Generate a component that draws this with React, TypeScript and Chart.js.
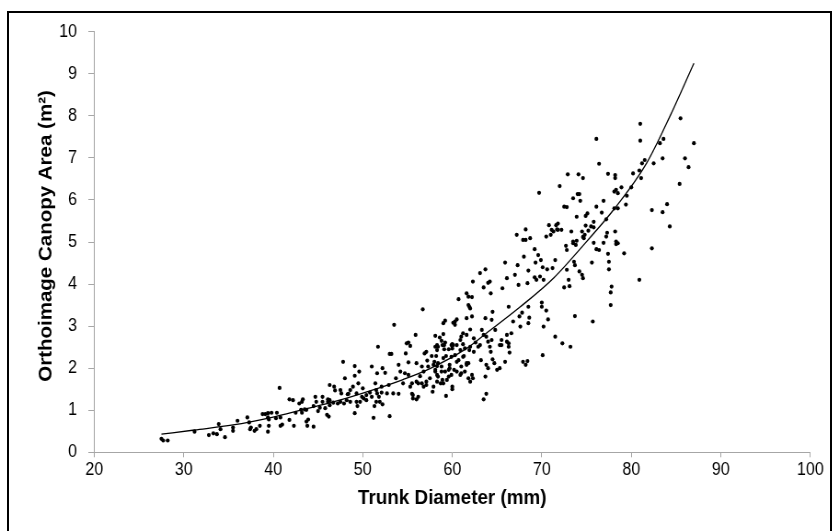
import { useEffect, useRef } from "react";
import { Chart, registerables } from "chart.js";

Chart.register(...registerables);

// Trunk diameter (mm) of each tree
const diameterMm = [
  27.5, 27.7, 28.2, 31.2, 32.8, 33.3, 33.7, 33.9, 34.1, 34.6, 35.5, 35.5, 36.0, 37.1, 37.3, 37.5, 37.4, 37.9, 38.1, 38.5,
  38.8, 39.1, 39.4, 39.5, 39.5, 39.4, 39.8, 40.3, 40.4, 40.7, 40.8, 41.0, 41.8, 41.8, 40.8,
  39.4, 42.2, 42.3, 42.5, 42.9, 43.1, 43.2, 43.5, 43.7, 43.8, 43.9, 44.5, 44.5, 44.7, 44.8, 45.0, 45.2, 45.5, 45.8, 46.0,
  46.2, 46.1, 46.3, 46.3, 46.7, 47.2, 47.5, 47.9, 48.2, 48.6, 48.4, 49.1, 49.3, 49.4, 49.7, 50.1, 50.4, 50.8, 51.0, 51.3,
  51.2, 51.5, 51.6, 51.8, 52.1, 52.2, 52.7, 53.0, 54.0, 55.5, 55.6, 56.0, 56.2,
  43.2, 43.3, 43.7, 45.5, 46.1, 46.3, 46.8, 46.9, 47.5, 47.8, 47.6, 48.0, 48.3, 48.6, 48.9, 49.1, 49.1, 49.3, 49.5, 49.6,
  49.9, 50.0, 50.4, 51.0, 51.4, 51.5, 51.6, 51.7, 51.9, 52.1, 52.2, 52.5, 52.9, 53.0, 53.2, 53.4, 53.7, 54.0, 54.2, 54.5,
  54.7, 54.8, 54.9, 55.1, 55.3, 55.1, 55.3, 55.5, 55.6, 56.0, 56.2, 56.4, 56.8, 56.9, 57.1, 57.3,
  53.5, 56.7, 55.9, 57.1, 58.1, 58.3, 58.4, 58.6, 58.8, 58.9, 59.0, 59.2, 59.1, 59.3, 59.6, 59.9, 60.1, 60.3, 60.5, 60.0,
  60.7, 60.9, 61.0, 61.2, 61.4, 61.6, 61.6, 61.6, 61.8, 61.9, 55.1, 57.2, 57.7, 57.9, 58.1, 58.3, 58.4, 58.8, 59.0, 59.2,
  59.6, 59.7, 59.9, 60.2, 60.5, 60.9, 61.0, 61.2, 61.4, 61.6, 61.8, 61.9, 56.0, 56.6, 57.1, 57.5, 57.9, 58.3, 59.0, 60.0,
  56.6, 56.8, 57.8, 58.0, 58.1, 58.2, 58.1, 58.3, 58.4, 58.7, 58.8, 58.9, 59.1, 59.3, 59.4, 59.6, 59.7, 59.9, 60.0, 60.1,
  60.3, 60.5, 60.7, 60.9, 61.0, 61.3, 61.6, 61.8, 62.0, 62.0, 62.2, 62.3, 62.4, 62.9, 63.1, 63.2, 63.5, 63.8, 63.7, 63.8,
  64.0, 64.0, 64.2, 64.3, 64.5, 64.7, 65.0, 65.3, 65.5, 65.9, 66.1, 66.3, 66.4, 67.9, 68.2, 68.4, 70.1, 72.3, 73.2,
  77.7, 77.7, 75.7,
  58.3, 59.0, 59.2, 60.3, 60.0, 60.5, 61.2, 61.8, 62.0, 62.2, 62.2, 62.0, 62.3, 62.4, 62.6, 63.1, 63.3, 63.5, 63.5, 63.7,
  63.7, 63.8, 64.0, 64.2, 64.3, 64.4, 64.5, 64.4, 64.8, 65.3, 65.5, 65.6, 65.9, 66.1, 66.1, 66.3, 66.3, 66.6, 66.8, 67.0,
  67.2, 67.3, 67.4, 67.5, 67.6, 67.8, 67.9, 68.0, 68.2, 68.2, 68.4, 68.5, 68.5, 68.5, 68.6, 68.7, 69.2, 69.2, 69.3, 69.4,
  69.6, 69.7, 69.8, 70.0, 70.0, 70.1, 69.9, 70.2, 70.2, 70.5, 70.5, 70.6, 70.7, 70.8, 71.0, 71.1, 71.3, 71.2, 71.5, 71.6,
  71.5, 71.7, 71.8, 71.8, 72.2, 72.5, 72.8, 72.5, 72.7, 72.8, 72.8, 73.0, 73.1, 73.3, 73.5, 73.5, 73.5, 73.6, 73.7, 73.7,
  73.8, 73.9, 73.9, 74.0, 74.2, 74.3, 74.2, 74.5, 74.6, 74.5, 74.7, 74.8, 74.9, 75.1, 75.2, 75.5, 75.6, 75.8, 75.8, 76.1,
  76.1, 76.4, 76.7, 76.9, 76.9, 77.2, 77.3, 77.4, 77.5, 77.5, 77.8, 78.1, 78.3, 78.1, 78.3, 78.5, 78.5, 78.5, 72.0,
  81.0, 81.0, 85.5, 87.0, 76.1, 83.6, 83.2, 83.5, 86.0, 86.4, 85.4, 81.5, 81.2, 82.5, 80.9, 76.4, 80.2, 81.1, 74.6, 77.4,
  78.2, 78.2, 78.9, 79.5, 80.0, 79.4, 74.9, 75.8, 74.6, 77.2, 78.2, 78.3, 79.2, 82.3, 82.3, 83.5, 84.0, 84.3, 80.9,
  72.9, 74.1,
];

// Orthoimage canopy area (m²) of each tree, same order
const canopyArea = [
  0.32, 0.28, 0.28, 0.49, 0.41, 0.45, 0.43, 0.67, 0.55, 0.36, 0.59, 0.51, 0.75, 0.83, 0.71, 0.59, 0.55, 0.51, 0.55, 0.63,
  0.91, 0.91, 0.83, 0.78, 0.63, 0.49, 0.94, 0.81, 0.94, 1.53, 0.63, 0.66, 1.26, 0.77, 0.83,
  0.93, 1.24, 0.63, 0.94, 1.16, 1.01, 0.94, 1.02, 0.73, 0.63, 0.78, 0.61, 1.10, 1.32, 1.20, 0.98, 1.06, 1.32, 1.05, 0.89,
  0.85, 1.20, 1.24, 1.12, 1.18, 1.16, 1.20, 1.16, 1.24, 1.20, 1.39, 0.93, 1.20, 1.10, 1.20, 1.28, 1.36, 1.42, 1.32, 1.10,
  0.82, 1.20, 1.40, 1.32, 1.42, 1.14, 1.40, 0.86, 1.39, 1.39, 1.28, 1.26, 1.32,
  1.20, 1.26, 1.01, 1.20, 1.26, 1.60, 1.56, 1.47, 1.48, 2.15, 1.40, 1.76, 1.38, 1.48, 1.56, 2.05, 1.82, 1.40, 1.64, 1.92,
  1.32, 1.52, 1.24, 2.04, 1.64, 1.48, 1.88, 2.51, 1.20, 1.56, 2.00, 1.89, 1.60, 2.34, 2.34, 1.40, 1.76, 2.08, 1.92, 1.64,
  1.88, 2.35, 2.59, 2.61, 2.53, 1.84, 1.56, 1.64, 1.36, 2.12, 1.64, 1.81, 1.92, 2.35, 1.68, 2.04,
  3.03, 3.40, 2.79, 2.39, 2.77, 2.43, 2.51, 2.73, 2.65, 2.55, 3.07, 3.13, 2.45, 2.29, 2.45, 2.55, 3.08, 3.11, 3.16, 2.47,
  3.64, 2.67, 2.75, 2.83, 2.47, 3.78, 3.19, 2.79, 3.70, 3.46, 2.14, 2.18, 2.29, 2.08, 1.96, 1.84, 2.12, 2.04, 2.24, 1.92,
  1.80, 2.00, 2.27, 1.96, 2.15, 1.84, 2.04, 2.27, 1.92, 2.12, 1.76, 2.43, 1.68, 1.64, 1.60, 1.76, 1.56, 1.68, 1.64, 1.56,
  2.04, 1.56, 1.44, 2.15, 2.51, 2.29, 1.92, 2.05, 1.80, 1.64, 1.92, 1.72, 2.55, 1.34, 1.72, 1.96, 2.08, 1.84, 1.50, 2.55,
  2.31, 1.92, 2.19, 2.43, 1.88, 2.29, 2.08, 2.12, 2.51, 1.68, 1.84, 1.76, 2.39, 2.51, 2.55, 2.19, 1.26, 1.39, 1.80, 2.08,
  2.00, 2.63, 2.51, 2.39, 2.21, 2.12, 1.96, 2.00, 2.55, 2.15, 2.63, 2.51, 2.37, 2.15, 2.08, 2.17, 2.31, 2.59, 2.51,
  3.80, 3.50, 3.11,
  2.55, 2.81, 2.61, 3.03, 2.57, 2.55, 2.57, 3.50, 3.42, 3.69, 3.23, 2.92, 4.06, 2.71, 2.61, 4.26, 2.91, 3.92, 2.79, 4.35,
  3.19, 2.75, 4.03, 4.06, 3.78, 2.67, 3.34, 3.15, 2.91, 2.55, 2.67, 3.90, 4.51, 2.79, 4.14, 2.59, 3.46, 2.83, 3.11, 4.22,
  5.17, 4.45, 3.98, 3.23, 2.99, 3.32, 5.05, 4.65, 5.05, 5.30, 4.02, 4.32, 3.46, 3.07, 3.20, 5.09, 4.83, 4.16, 4.51, 4.10,
  4.69, 6.17, 4.18, 3.56, 3.46, 4.40, 4.57, 4.10, 2.99, 3.37, 5.13, 4.35, 3.16, 5.40, 5.17, 5.29, 5.25, 4.38, 4.57, 5.40,
  2.75, 5.30, 5.44, 5.29, 5.29, 5.84, 5.83, 3.92, 4.91, 4.81, 4.34, 4.10, 3.95, 5.25, 6.04, 4.97, 5.01, 4.53, 4.45, 3.24,
  4.93, 5.03, 5.60, 6.14, 6.14, 5.98, 4.30, 4.22, 4.14, 5.25, 5.09, 5.17, 5.62, 5.68, 5.27, 5.37, 4.51, 5.48, 4.98, 5.84,
  4.83, 4.81, 5.70, 5.98, 4.98, 5.54, 5.22, 4.72, 4.53, 4.35, 3.94, 6.20, 6.24, 5.80, 5.01, 4.97, 5.80, 6.16, 6.33,
  7.81, 7.41, 7.94, 7.35, 7.45, 7.45, 7.35, 6.99, 6.99, 6.78, 6.38, 6.95, 6.87, 6.87, 6.70, 6.86, 6.63, 6.52, 6.52, 6.62,
  6.59, 6.52, 6.30, 6.10, 6.30, 5.89, 5.39, 5.35, 5.12, 5.13, 5.25, 4.95, 4.73, 5.76, 4.85, 5.71, 5.90, 5.37, 4.10,
  6.61, 6.61,
];

// Exponential trend line
const trendDiameter = [27.5, 31.2, 35.5, 39.6, 43.4, 47.1, 50.8, 54.5, 57.5, 61.6, 63.8, 67.6, 71.3, 75.0, 78.0, 81.7, 84.3, 87.0];
const trendArea = [0.43, 0.53, 0.65, 0.82, 1.02, 1.22, 1.46, 1.73, 1.99, 2.47, 2.83, 3.46, 4.14, 5.01, 5.76, 6.87, 7.98, 9.25];

const xAxisMin = 20;
const xAxisMax = 100;
const xAxisStep = 10;
const yAxisMin = 0;
const yAxisMax = 10;
const yAxisStep = 1;

const xTitle = "Trunk Diameter (mm)";
const yTitle = "Orthoimage Canopy Area (m²)";

const FONT = "'Liberation Sans', Arial, sans-serif";

// the original picture is slightly squeezed horizontally
const SQUEEZE = 0.92;
const VIEW_W = 839;
const VIEW_H = 531;
const CANVAS_W = Math.round(VIEW_W / SQUEEZE);

// y-axis title drawn a little above the plot centre, as in the original
const yTitlePlugin = {
  id: "yTitleText",
  afterDraw(chart: any) {
    const ctx = chart.ctx;
    ctx.save();
    ctx.translate(50, 236);
    ctx.rotate(-Math.PI / 2);
    ctx.fillStyle = "#000";
    ctx.font = `bold 20.5px ${FONT}`;
    ctx.textAlign = "center";
    ctx.textBaseline = "middle";
    ctx.fillText(yTitle, 0, 0);
    ctx.restore();
  },
};

export default function App() {
  const ref = useRef<HTMLCanvasElement | null>(null);

  useEffect(() => {
    const canvas = ref.current;
    if (!canvas) return;
    const plotLeft = 94.3 / SQUEEZE;
    const plotRight = 810.3 / SQUEEZE;
    const chart = new Chart(canvas, {
      type: "scatter",
      data: {
        datasets: [
          {
            type: "line",
            data: trendDiameter.map((x, i) => ({ x, y: trendArea[i] })),
            borderColor: "#000",
            borderWidth: 1.3,
            pointRadius: 0,
            cubicInterpolationMode: "monotone",
            fill: false,
          } as any,
          {
            type: "scatter",
            data: diameterMm.map((x, i) => ({ x, y: canopyArea[i] })),
            backgroundColor: "#000",
            borderColor: "#000",
            borderWidth: 0,
            pointRadius: 2.1,
          },
        ],
      },
      plugins: [yTitlePlugin],
      options: {
        animation: false,
        responsive: false,
        devicePixelRatio: 1,
        layout: { padding: { left: 0, top: 31.7, right: CANVAS_W - plotRight, bottom: 0 } },
        plugins: { legend: { display: false }, tooltip: { enabled: false } },
        scales: {
          x: {
            type: "linear",
            min: xAxisMin,
            max: xAxisMax,
            ticks: { stepSize: xAxisStep, color: "#000", font: { family: FONT, size: 17.5 }, padding: 2.5 },
            grid: { drawOnChartArea: false, drawTicks: true, tickLength: 5, color: "#a6a6a6" },
            border: { color: "#a6a6a6", width: 1 },
            title: {
              display: true,
              text: xTitle,
              color: "#000",
              font: { family: FONT, size: 20.5, weight: "bold" },
              padding: { top: 0, bottom: 20.7 },
            },
            afterFit: (s: any) => {
              s.height = 78.7;
            },
          },
          y: {
            type: "linear",
            min: yAxisMin,
            max: yAxisMax,
            ticks: { stepSize: yAxisStep, color: "#000", font: { family: FONT, size: 17.5 }, padding: 12.3 },
            grid: { drawOnChartArea: false, drawTicks: true, tickLength: 6.5, color: "#a6a6a6" },
            border: { color: "#a6a6a6", width: 1 },
            title: { display: false, text: yTitle },
            afterFit: (s: any) => {
              s.width = plotLeft;
            },
          },
        },
      },
    });
    return () => chart.destroy();
  }, []);

  return (
    <div
      style={{
        position: "fixed",
        left: 0,
        top: 0,
        width: VIEW_W,
        height: VIEW_H,
        overflow: "hidden",
        background: "#fff",
      }}
    >
      <div
        style={{
          position: "absolute",
          left: 7,
          top: 11,
          width: 825,
          height: 560,
          border: "2px solid #000",
          boxSizing: "border-box",
        }}
      />
      <canvas
        ref={ref}
        width={CANVAS_W}
        height={VIEW_H}
        style={{ position: "absolute", left: 0, top: 0, width: VIEW_W, height: VIEW_H }}
      />
    </div>
  );
}
